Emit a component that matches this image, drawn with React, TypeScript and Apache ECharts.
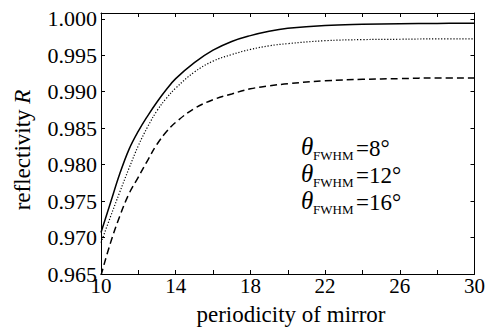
import React, { useEffect, useRef } from "react";
import * as echarts from "echarts";

const xValues = [10, 10.5, 11, 11.5, 12, 12.5, 13, 13.5, 14, 15, 16, 17, 18, 19, 20, 22, 24, 26, 28, 30];
const r8 = [0.9707, 0.9747, 0.9787, 0.9821, 0.9846, 0.9867, 0.9886, 0.9903, 0.9918, 0.994, 0.9957, 0.9969, 0.9977, 0.9983, 0.9987, 0.9991, 0.99925, 0.99932, 0.99937, 0.9994];
const r12 = [0.9693, 0.9728, 0.9762, 0.9795, 0.9826, 0.9852, 0.9874, 0.9891, 0.9905, 0.9927, 0.9942, 0.9951, 0.9958, 0.9963, 0.9966, 0.997, 0.99715, 0.9972, 0.99725, 0.99725];
const r16 = [0.9648, 0.9692, 0.9729, 0.976, 0.9783, 0.9806, 0.9828, 0.9845, 0.9858, 0.9877, 0.9889, 0.9897, 0.9904, 0.9908, 0.9911, 0.9915, 0.9917, 0.9918, 0.9919, 0.9919];
const yTicks = [0.965, 0.97, 0.975, 0.98, 0.985, 0.99, 0.995, 1.0];
const legendAngles = ["8°", "12°", "16°"];

const FONT = "Liberation Serif";

export default function App() {
  const ref = useRef<HTMLDivElement>(null);
  useEffect(() => {
    if (!ref.current) return;
    const chart = echarts.init(ref.current, null, { renderer: "svg" });
    const pair = (ys: number[]) => xValues.map((x, i) => [x, ys[i]]);
    const axisLine = { show: true, lineStyle: { color: "#000", width: 1 } };
    const tick = { show: true, inside: true, length: 4, lineStyle: { color: "#000", width: 1 } };
    const xBase = { type: "value", min: 10, max: 30, interval: 2, axisLine, axisTick: tick, splitLine: { show: false } };
    const yBase = { type: "value", min: 0.965, max: 1.0008, interval: 0.005, axisLine, splitLine: { show: false } };
    const legendGraphics: any[] = [];
    legendAngles.forEach((a, i) => {
      const cy = 148 + i * 27;
      legendGraphics.push(
        { type: "text", x: 301, y: cy - 2, style: { text: "θ", font: `italic 25px ${FONT}`, fill: "#000", verticalAlign: "middle", align: "left" } },
        { type: "text", x: 313, y: cy + 7, style: { text: "FWHM", font: `13px ${FONT}`, fill: "#000", verticalAlign: "middle", align: "left" } },
        { type: "text", x: 356, y: cy, style: { text: "=" + a, font: `23px ${FONT}`, fill: "#000", verticalAlign: "middle", align: "left" } }
      );
    });
    chart.setOption({
      animation: false,
      textStyle: { fontFamily: FONT, color: "#000" },
      grid: { left: 101, right: 9, top: 13, bottom: 55 },
      xAxis: [
        {
          ...xBase,
          position: "bottom",
          axisLabel: {
            color: "#000",
            fontFamily: FONT,
            fontSize: 21,
            margin: 1,
            formatter: (v: number) => ((Math.round(v) - 10) % 4 === 0 ? String(Math.round(v)) : ""),
          },
        },
        { ...xBase, position: "top", axisLabel: { show: false } },
      ],
      yAxis: [
        {
          ...yBase,
          position: "left",
          axisTick: { ...tick, customValues: yTicks },
          axisLabel: {
            color: "#000",
            fontFamily: FONT,
            fontSize: 22,
            margin: 4,
            customValues: yTicks,
            formatter: (v: number) => v.toFixed(3),
          },
        },
        { ...yBase, position: "right", axisTick: { ...tick, customValues: yTicks }, axisLabel: { show: false } },
      ],
      graphic: [
        {
          type: "text",
          x: 22,
          y: 150,
          rotation: Math.PI / 2,
          style: {
            text: "{a|reflectivity }{b|R}",
            rich: {
              a: { font: `23px ${FONT}`, fill: "#000" },
              b: { font: `italic 23px ${FONT}`, fill: "#000" },
            },
            align: "center",
            verticalAlign: "middle",
          },
        },
        {
          type: "text",
          x: 291,
          y: 314,
          style: { text: "periodicity of mirror", font: `23px ${FONT}`, fill: "#000", align: "center", verticalAlign: "middle" },
        },
        ...legendGraphics,
      ],
      series: [
        { type: "line", name: "8", data: pair(r8), showSymbol: false, smooth: 0.4, lineStyle: { color: "#000", width: 1.5, type: "solid" } },
        { type: "line", name: "12", data: pair(r12), showSymbol: false, smooth: 0.4, lineStyle: { color: "#000", width: 1.2, type: [1.2, 1.8] } },
        { type: "line", name: "16", data: pair(r16), showSymbol: false, smooth: 0.4, lineStyle: { color: "#000", width: 1.5, type: [7, 4] } },
      ],
    });
    return () => chart.dispose();
  }, []);
  return <div ref={ref} style={{ width: 488, height: 329, position: "absolute", left: 0, top: 0 }} />;
}
